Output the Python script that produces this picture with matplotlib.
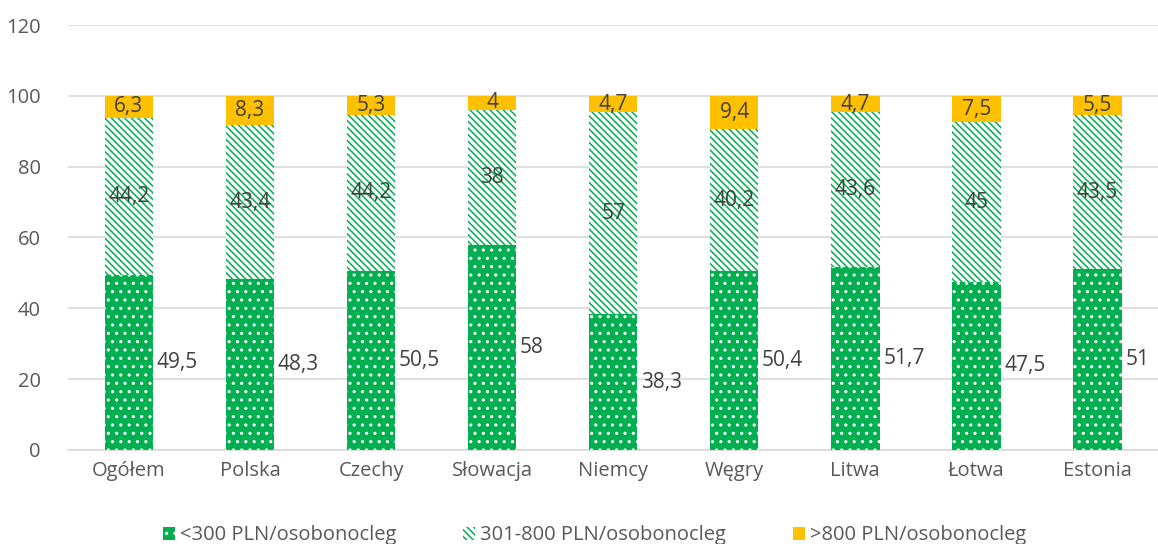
import matplotlib.pyplot as plt
import numpy as np

plt.rcParams['font.family'] = ['Open Sans', 'DejaVu Sans']
plt.rcParams['hatch.linewidth'] = 1.1

categories = ['Ogółem', 'Polska', 'Czechy', 'Słowacja', 'Niemcy', 'Węgry', 'Litwa', 'Łotwa', 'Estonia']
low = [49.5, 48.3, 50.5, 58, 38.3, 50.4, 51.7, 47.5, 51]
mid = [44.2, 43.4, 44.2, 38, 57, 40.2, 43.6, 45, 43.5]
high = [6.3, 8.3, 5.3, 4, 4.7, 9.4, 4.7, 7.5, 5.5]
series_names = ['<300 PLN/osobonocleg', '301-800 PLN/osobonocleg', '>800 PLN/osobonocleg']

green = '#00B050'
gold = '#FFC000'
txt = '#404040'

fig = plt.figure(figsize=(11.58, 5.44), dpi=100)
ax = fig.add_axes([0.059, 0.173, 0.941, 0.781])

x = np.arange(len(categories))
w = 0.4
low_a = np.array(low)
mid_a = np.array(mid)
high_a = np.array(high)

b1 = ax.bar(x, low_a, w, color=green, edgecolor='white', hatch='..', linewidth=0, zorder=3,
            label=series_names[0])
b2 = ax.bar(x, mid_a, w, bottom=low_a, color='white', edgecolor=green, hatch='\\\\\\\\\\',
            linewidth=0, zorder=3, label=series_names[1])
b3 = ax.bar(x, high_a, w, bottom=low_a + mid_a, color=gold, edgecolor=gold, linewidth=0,
            zorder=3, label=series_names[2])

def fmt(v):
    return f'{v:g}'.replace('.', ',')

fs_lab = 15
for i in range(len(categories)):
    ax.text(x[i] + w / 2 + 0.03, low_a[i] / 2, fmt(low_a[i]), ha='left', va='center',
            fontsize=fs_lab, color=txt, zorder=5)
    ax.text(x[i], low_a[i] + mid_a[i] / 2, fmt(mid_a[i]), ha='center', va='center',
            fontsize=fs_lab, color=txt, zorder=5)
    ax.text(x[i], low_a[i] + mid_a[i] + high_a[i] / 2, fmt(high_a[i]), ha='center', va='center',
            fontsize=fs_lab, color=txt, zorder=5)

ax.set_ylim(0, 120)
ax.set_yticks(np.arange(0, 121, 20))
ax.set_xlim(-0.5, len(categories) - 0.5)
ax.set_xticks(x)
ax.set_xticklabels(categories)
ax.tick_params(axis='both', length=0, labelsize=14.5, colors='#595959', pad=8)
ax.tick_params(axis='y', pad=20)
ax.yaxis.grid(True, color='#D9D9D9', linewidth=1.2, zorder=0)
for s in ['top', 'right', 'left']:
    ax.spines[s].set_visible(False)
ax.spines['bottom'].set_color('#D9D9D9')
ax.spines['bottom'].set_linewidth(1.2)

leg = ax.legend(loc='upper center', bbox_to_anchor=(0.483, -0.135), ncol=3, frameon=False,
                fontsize=14.5, handlelength=0.6, handleheight=0.6, handletextpad=0.25,
                columnspacing=3.3, labelcolor='#595959')

plt.savefig('out.png', dpi=100)
